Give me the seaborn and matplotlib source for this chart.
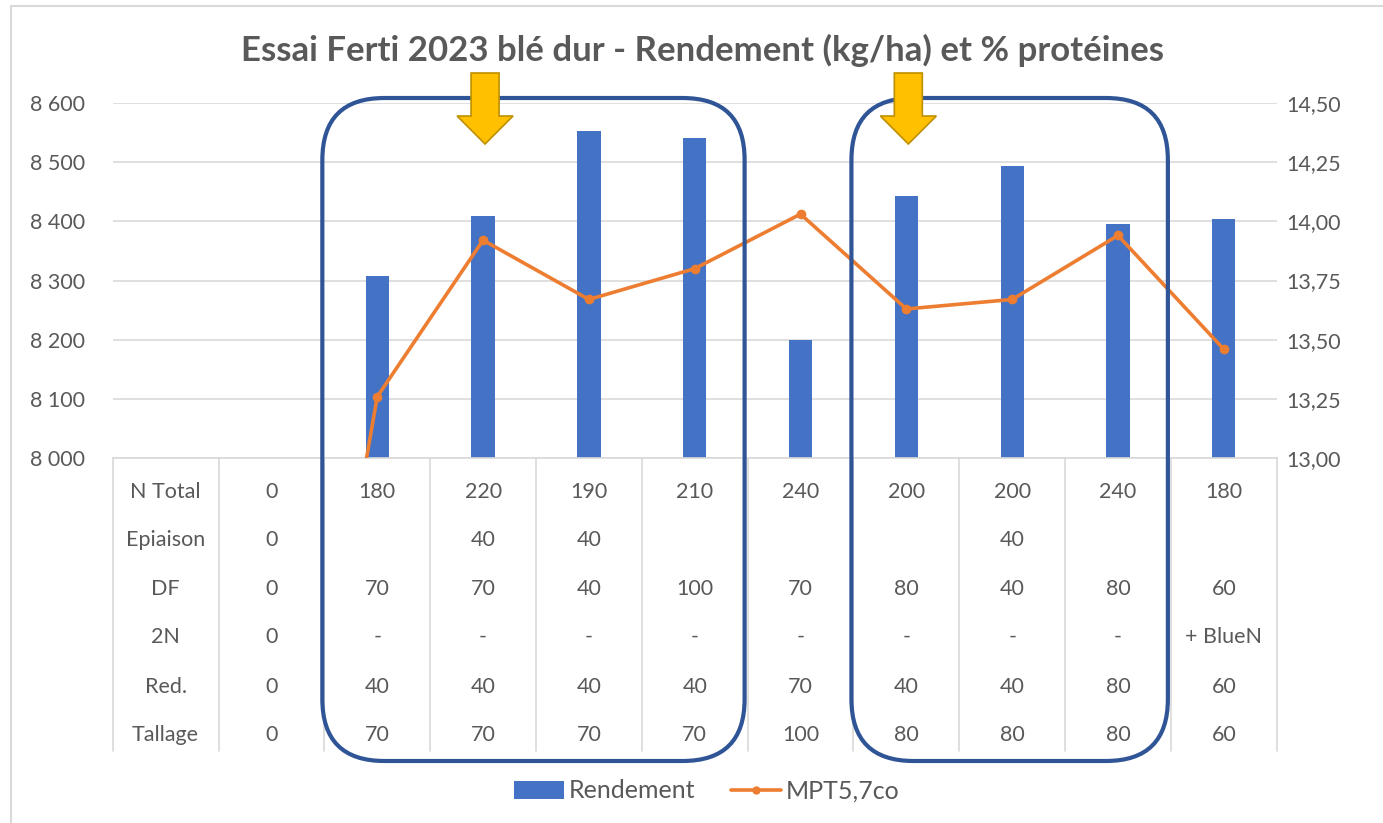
import numpy as np
import pandas as pd
import matplotlib.pyplot as plt
import matplotlib.transforms as mtransforms
from matplotlib.patches import FancyBboxPatch, Polygon, Rectangle, Patch
from matplotlib.lines import Line2D
from matplotlib.ticker import FuncFormatter, MultipleLocator
import seaborn as sns

# --- data ---
row_names = ["N Total", "Epiaison", "DF", "2N", "Red.", "Tallage"]
n_total = ["0", "180", "220", "190", "210", "240", "200", "200", "240", "180"]
epiaison = ["0", "", "40", "40", "", "", "", "40", "", ""]
df_n = ["0", "70", "70", "40", "100", "70", "80", "40", "80", "60"]
deux_n = ["0", "-", "-", "-", "-", "-", "-", "-", "-", "+ BlueN"]
red = ["0", "40", "40", "40", "40", "70", "40", "40", "80", "60"]
tallage = ["0", "70", "70", "70", "70", "100", "80", "80", "80", "60"]

rendement = [8001, 8308, 8409, 8553, 8541, 8200, 8443, 8494, 8395, 8404]
proteines = [10.7, 13.26, 13.92, 13.67, 13.80, 14.03, 13.63, 13.67, 13.94, 13.46]

# groups highlighted by the rounded boxes (first, last category index) and arrows
groups = [(2, 5), (7, 9)]
arrows_at = [3, 7]

title = "Essai Ferti 2023 blé dur - Rendement (kg/ha) et % protéines"

sns.set_style("white")
plt.rcParams['font.family'] = ['Lato', 'DejaVu Sans']

TXT = '#595959'
GRID = '#d9d9d9'
BLUE = '#4472C4'
ORANGE = '#ED7D31'
BOX = '#2F5597'

W, H = 1383, 823
fig = plt.figure(figsize=(W / 100, H / 100), dpi=100)
ax = fig.add_axes([112.7 / W, 1 - 458.3 / H, 1164 / W, 355.6 / H])
ax2 = ax.twinx()

pos = np.arange(1, len(rendement) + 1)
data = pd.DataFrame({'pos': pos, 'Rendement': rendement, 'MPT5,7co': proteines})

sns.barplot(data=data, x='pos', y='Rendement', native_scale=True, orient='x',
            width=0.22, color=BLUE, saturation=1, linewidth=0, ax=ax, zorder=2)
sns.lineplot(data=data, x='pos', y='MPT5,7co', ax=ax2, color=ORANGE, linewidth=2.6,
             marker='o', markersize=7, markeredgewidth=0, legend=False)

ax.set_xlim(-0.5, 10.5)
ax.set_ylim(8000, 8600)
ax2.set_ylim(13, 14.5)
ax.yaxis.set_major_locator(MultipleLocator(100))
ax2.yaxis.set_major_locator(MultipleLocator(0.25))
ax.yaxis.set_major_formatter(FuncFormatter(lambda v, p: f"{v:,.0f}".replace(",", " ")))
ax2.yaxis.set_major_formatter(FuncFormatter(lambda v, p: f"{v:.2f}".replace(".", ",")))
ax.set_xticks([])
for a in (ax, ax2):
    a.set_xlabel('')
    a.set_ylabel('')
    for s in a.spines.values():
        s.set_visible(False)
ax.spines['bottom'].set_visible(True)
ax.spines['bottom'].set_color(GRID)
ax.spines['bottom'].set_linewidth(1.2)
ax.yaxis.grid(True, color=GRID, linewidth=1.2)
ax.set_axisbelow(True)
ax.tick_params(axis='y', length=0, pad=20, labelsize=15.5, labelcolor=TXT)
ax2.tick_params(axis='y', length=0, pad=7, labelsize=15.5, labelcolor=TXT)

# --- category table under the axis ---
blend = mtransforms.blended_transform_factory(ax.transData, fig.transFigure)
rows = [n_total, epiaison, df_n, deux_n, red, tallage]
row_y = [492, 540, 589, 637, 687, 735]
for name, vals, y in zip(row_names, rows, row_y):
    fig.text(0, 1 - y / H, name, transform=blend, ha='center', va='center',
             fontsize=15.5, color=TXT)
    for p, v in zip(pos, vals):
        fig.text(p, 1 - y / H, v, transform=blend, ha='center', va='center',
                 fontsize=15.5, color=TXT)
for b in np.arange(-0.5, len(pos) + 1):
    fig.add_artist(Line2D([b, b], [1 - 458.3 / H, 1 - 751 / H], transform=blend,
                          color=GRID, linewidth=1.2))

# --- rounded boxes and arrows (pixel coords) ---
ident = mtransforms.IdentityTransform()
for g0, g1 in groups:
    x0 = ax.transData.transform((g0 - 0.5, 8000))[0] - 2
    x1 = ax.transData.transform((g1 + 0.5, 8000))[0] - 3
    y_top, y_bot = H - 98, H - 761
    fig.add_artist(FancyBboxPatch((x0, y_bot), x1 - x0, y_top - y_bot,
                                  boxstyle="round,pad=0,rounding_size=62",
                                  transform=ident, facecolor='none',
                                  edgecolor=BOX, linewidth=3, zorder=5))
for a in arrows_at:
    cx = ax.transData.transform((a, 8000))[0] + 2
    pts = [(cx - 14, 73), (cx - 14, 116), (cx - 28, 116), (cx, 144),
           (cx + 28, 116), (cx + 14, 116), (cx + 14, 73)]
    fig.add_artist(Polygon([(x, H - y) for x, y in pts], closed=True,
                           transform=ident, facecolor='#FFC000',
                           edgecolor='#BF9000', linewidth=1.2, zorder=6))

fig.text(0.508, 1 - 50 / H, title, ha='center', va='center', fontsize=25,
         fontweight='bold', color=TXT)

handles = [Patch(facecolor=BLUE, edgecolor='none'),
           Line2D([], [], color=ORANGE, linewidth=2.6, marker='o', markersize=6,
                  markeredgewidth=0)]
fig.legend(handles, ['Rendement', 'MPT5,7co'], loc='center',
           bbox_to_anchor=(0.511, 1 - 791 / H), ncol=2, frameon=False,
           fontsize=18, labelcolor=TXT, handlelength=2.0, columnspacing=1.4,
           handletextpad=0.2)

fig.add_artist(Rectangle((11, -10), W + 10, H - 6 + 10, transform=ident,
                         facecolor='none', edgecolor=GRID, linewidth=1.5))

fig.savefig("out.png", dpi=100)
